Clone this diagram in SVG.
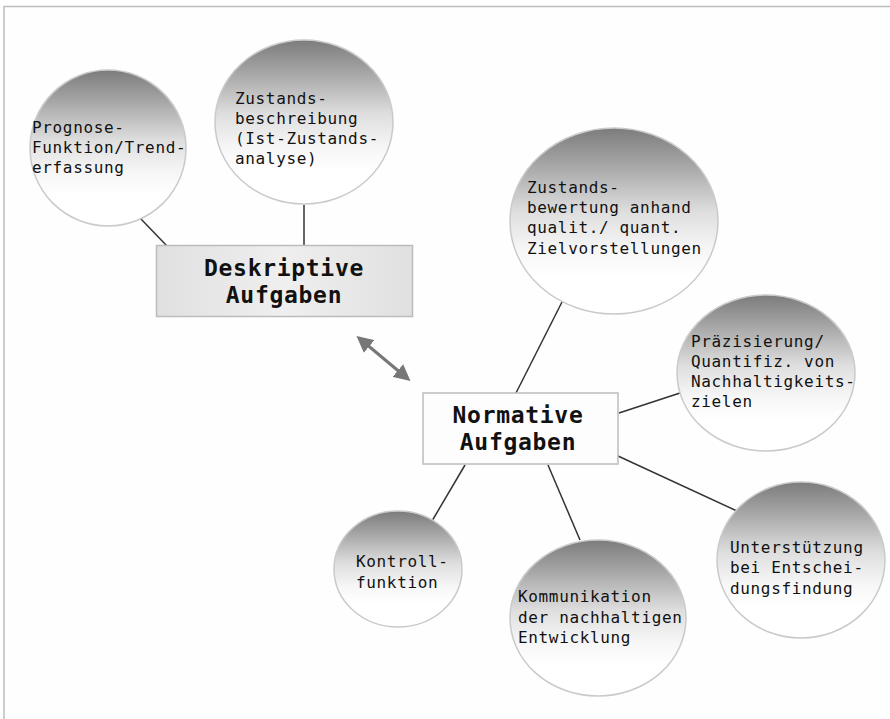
<svg xmlns="http://www.w3.org/2000/svg" width="890" height="719" viewBox="0 0 890 719">
<defs>
<linearGradient id="ball" x1="0" y1="0" x2="0" y2="1">
<stop offset="0" stop-color="#7c7c7c"/>
<stop offset="0.2" stop-color="#a6a6a6"/>
<stop offset="0.45" stop-color="#dedede"/>
<stop offset="0.65" stop-color="#f6f6f6"/>
<stop offset="0.8" stop-color="#ffffff"/>
<stop offset="1" stop-color="#ffffff"/>
</linearGradient>
<linearGradient id="boxD" x1="0" y1="0" x2="1" y2="0">
<stop offset="0" stop-color="#e0e0e0"/>
<stop offset="0.5" stop-color="#efefef"/>
<stop offset="1" stop-color="#e0e0e0"/>
</linearGradient>
<marker id="ah" viewBox="0 0 10 10" refX="8" refY="5" markerWidth="5.5" markerHeight="5.5" orient="auto-start-reverse">
<path d="M0,0 L10,5 L0,10 z" fill="#777"/>
</marker>
<style>
.ball{fill:url(#ball);stroke:#cacaca;stroke-width:1.5}
.t{font-family:"DejaVu Sans Mono","Liberation Mono",monospace;font-size:16px;letter-spacing:0.65px;fill:#111}
.b{font-family:"DejaVu Sans Mono","Liberation Mono",monospace;font-size:23px;font-weight:bold;letter-spacing:0.7px;fill:#111;text-anchor:middle}
.con{stroke:#333;stroke-width:1.5;fill:none}
</style>
</defs>
<rect width="890" height="719" fill="#fefefe"/>
<path d="M4,719 V6.5 H890" fill="none" stroke="#bdbdbd" stroke-width="1.5"/>

<g id="connectors">
<line class="con" x1="140" y1="218" x2="167" y2="246"/>
<line class="con" x1="304" y1="205" x2="304" y2="246"/>
<line class="con" x1="562" y1="302" x2="516" y2="393"/>
<line class="con" x1="680" y1="393" x2="619" y2="413"/>
<line class="con" x1="618" y1="456" x2="737" y2="511"/>
<line class="con" x1="465" y1="465" x2="432" y2="521"/>
<line class="con" x1="548" y1="465" x2="580" y2="540"/>
<line x1="359" y1="338" x2="408" y2="379" stroke="#777" stroke-width="3" marker-start="url(#ah)" marker-end="url(#ah)"/>
</g>

<g id="prognose">
<ellipse class="ball" cx="108" cy="148" rx="78" ry="78"/>
<text class="t"><tspan x="32" y="133">Prognose-</tspan><tspan x="32" y="153">Funktion/Trend-</tspan><tspan x="32" y="173">erfassung</tspan></text>
</g>

<g id="zustandsbeschreibung">
<ellipse class="ball" cx="304" cy="122" rx="89" ry="82"/>
<text class="t"><tspan x="235" y="104">Zustands-</tspan><tspan x="235" y="124">beschreibung</tspan><tspan x="235" y="144">(Ist-Zustands-</tspan><tspan x="235" y="164">analyse)</tspan></text>
</g>

<g id="deskriptiv">
<rect x="156.5" y="245.5" width="256" height="71" fill="url(#boxD)" stroke="#bcbcbc" stroke-width="1.5"/>
<text class="b"><tspan x="284" y="276">Deskriptive</tspan><tspan x="284" y="303">Aufgaben</tspan></text>
</g>

<g id="zustandsbewertung">
<ellipse class="ball" cx="614" cy="221" rx="104" ry="93"/>
<text class="t"><tspan x="527" y="193">Zustands-</tspan><tspan x="527" y="213">bewertung anhand</tspan><tspan x="527" y="233">qualit./ quant.</tspan><tspan x="527" y="254">Zielvorstellungen</tspan></text>
</g>

<g id="praezisierung">
<ellipse class="ball" cx="766" cy="373" rx="89" ry="78"/>
<text class="t"><tspan x="691" y="347">Präzisierung/</tspan><tspan x="691" y="367">Quantifiz. von</tspan><tspan x="691" y="387">Nachhaltigkeits-</tspan><tspan x="691" y="407">zielen</tspan></text>
</g>

<g id="normativ">
<rect x="423" y="393" width="195" height="71" fill="#fdfdfd" stroke="#bcbcbc" stroke-width="1.5"/>
<text class="b"><tspan x="518" y="423">Normative</tspan><tspan x="518" y="450">Aufgaben</tspan></text>
</g>

<g id="unterstuetzung">
<ellipse class="ball" cx="801" cy="560" rx="84" ry="78"/>
<text class="t"><tspan x="730" y="553">Unterstützung</tspan><tspan x="730" y="573">bei Entschei-</tspan><tspan x="730" y="594">dungsfindung</tspan></text>
</g>

<g id="kontroll">
<ellipse class="ball" cx="398" cy="569" rx="64" ry="58"/>
<text class="t"><tspan x="356" y="567">Kontroll-</tspan><tspan x="356" y="588">funktion</tspan></text>
</g>

<g id="kommunikation">
<ellipse class="ball" cx="598" cy="618" rx="88" ry="78"/>
<text class="t"><tspan x="518" y="602">Kommunikation</tspan><tspan x="518" y="623">der nachhaltigen</tspan><tspan x="518" y="643">Entwicklung</tspan></text>
</g>
</svg>
